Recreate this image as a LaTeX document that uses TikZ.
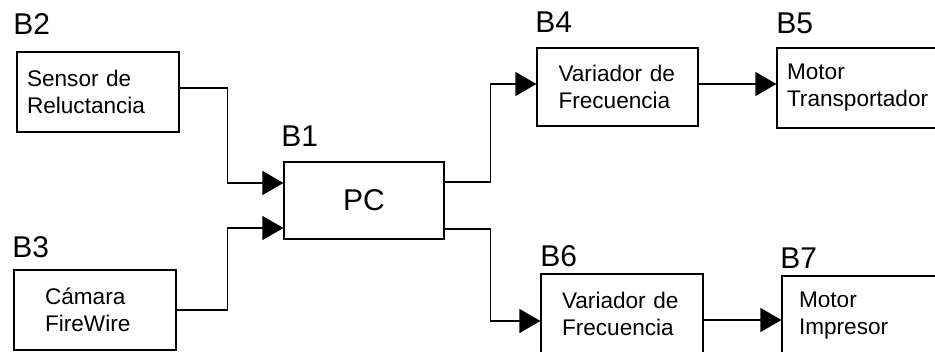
\documentclass[tikz,border=0pt]{standalone}
\usepackage{fontspec}
\setmainfont{Liberation Sans}
\usetikzlibrary{arrows.meta}
\definecolor{LineClr}{rgb}{0,0,0}

\tikzset{
  BlockStl/.style={draw=LineClr, line width=0.6pt, inner sep=0pt,
    minimum width=81pt, minimum height=40pt, align=left,
    font=\fontsize{11.3pt}{13.5pt}\selectfont},
  TagStl/.style={anchor=base west, inner sep=0pt,
    font=\fontsize{15pt}{18pt}\selectfont},
  FlowStl/.style={draw=LineClr, line width=0.6pt,
    -{Triangle[length=10.5pt,width=12pt]}}
}

\begin{document}
\begin{tikzpicture}[x=0.5pt,y=-0.5pt]
\useasboundingbox (0,0) rectangle (935,352);
\clip (0,0) rectangle (935,352);

\node[BlockStl,minimum width=80pt,minimum height=38.5pt,align=center,
  font=\fontsize{15pt}{18pt}\selectfont] (B1) at (364,200.5) {PC};
\node[BlockStl,text width=71pt] (B2) at (98,92) {Sensor de\\Reluctancia};
\node[BlockStl,text width=50pt] (B3) at (95,310) {Cámara\\FireWire};
\node[BlockStl,minimum width=80.5pt,minimum height=39pt,text width=59pt] (B4) at (617.5,87) {Variador de\\Frecuencia};
\node[BlockStl,text width=71pt] (B5) at (858,88) {Motor\\Transportador};
\node[BlockStl,text width=60pt] (B6) at (622,314) {Variador de\\Frecuencia};
\node[BlockStl,text width=64pt] (B7) at (863,316) {Motor\\Impresor};

\node[TagStl] (T1) at (281,147) {B1};
\node[TagStl] (T2) at (13,35) {B2};
\node[TagStl] (T3) at (12,257) {B3};
\node[TagStl] (T4) at (535,33) {B4};
\node[TagStl] (T5) at (776,34) {B5};
\node[TagStl] (T6) at (540,266) {B6};
\node[TagStl] (T7) at (780,268) {B7};

\draw[FlowStl] ([yshift=2pt]B2.east) -- ++(48,0) |- ([yshift=8.75pt]B1.west);
\draw[FlowStl] (B3.east) -- ++(51,0) |- ([yshift=-13.75pt]B1.west);
\draw[FlowStl] ([yshift=9.25pt]B1.east) -- ++(46,0) |- ([yshift=1.5pt]B4.west);
\draw[FlowStl] ([yshift=-14.25pt]B1.east) -- ++(46,0) |- ([yshift=-3.5pt]B6.west);
\draw[FlowStl] ([yshift=1.5pt]B4.east) -- ([yshift=2pt]B5.west);
\draw[FlowStl] ([yshift=-3pt]B6.east) -- ([yshift=-2pt]B7.west);

\end{tikzpicture}
\end{document}
